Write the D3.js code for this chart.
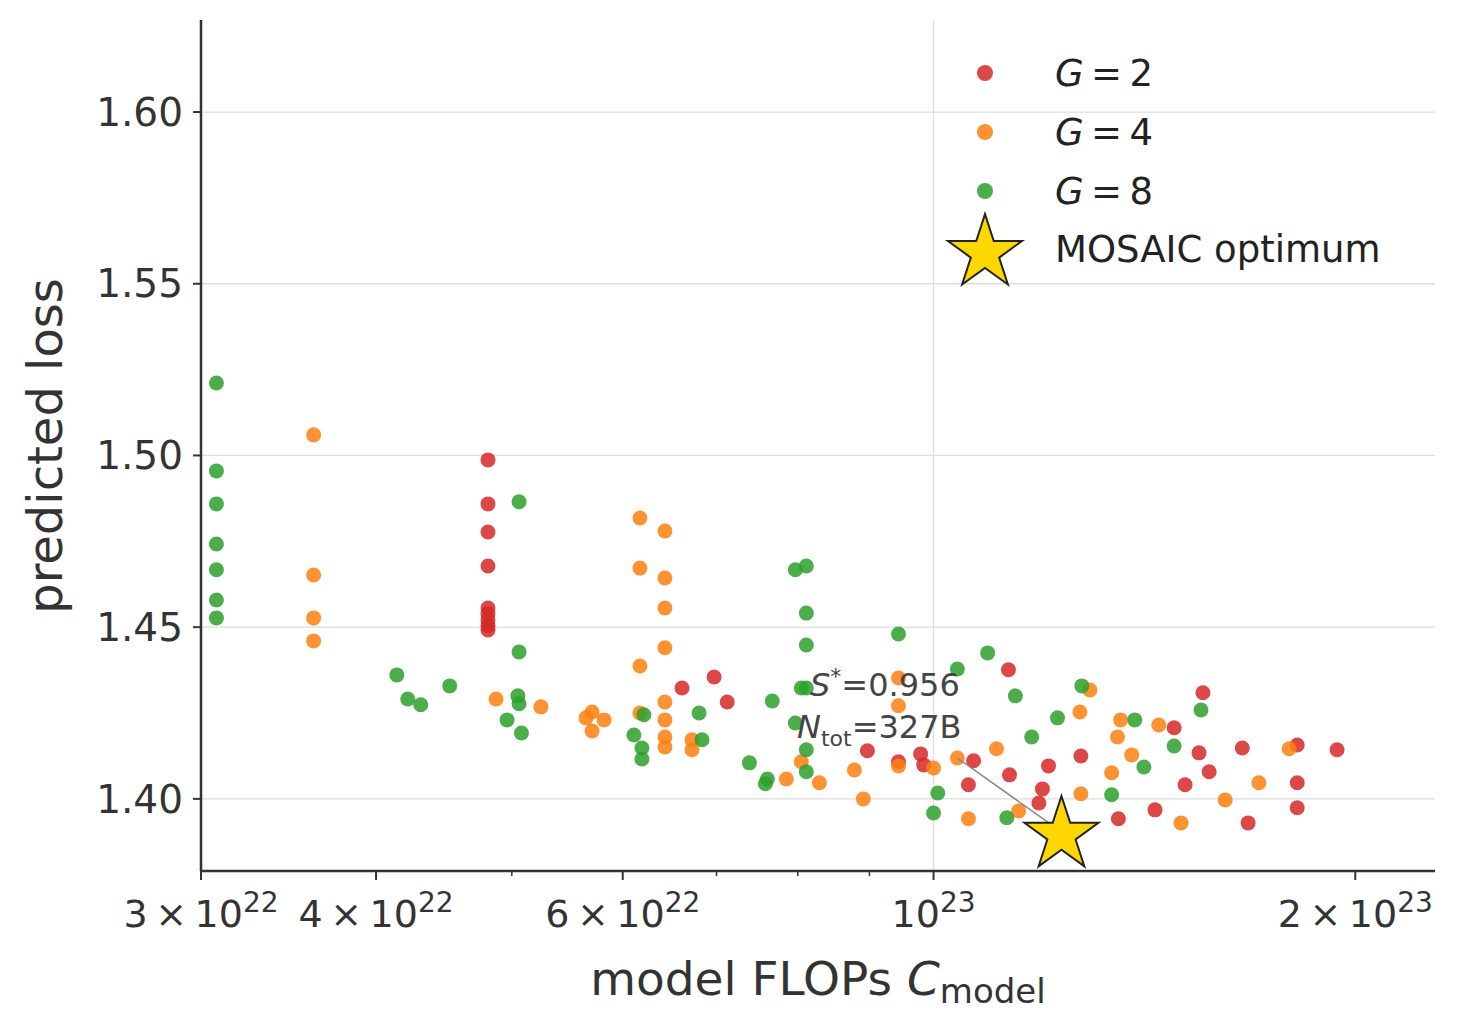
<!DOCTYPE html>
<html><head><meta charset="utf-8">
<script src="https://cdn.jsdelivr.net/npm/d3@7"></script>
<style>body{margin:0;background:#fff}text{font-family:"DejaVu Sans",sans-serif}</style>
</head><body><svg id="c" width="1465" height="1029"></svg>
<script>
const g2x=[0.4808,0.4808,0.4808,0.4808,0.4808,0.4808,0.4808,0.4808,0.4808,0.6614,0.6972,0.7124,0.897,0.979,0.984,0.944,1.059,1.068,1.131,1.133,1.189,1.196,1.208,1.274,1.355,1.439,1.512,1.485,1.547,1.557,1.573,1.661,1.677,1.818,1.818,1.818,1.941];
const g2y=[1.4987,1.4859,1.4777,1.4678,1.4556,1.4539,1.4521,1.4504,1.4492,1.4323,1.4355,1.4282,1.4140,1.4131,1.4099,1.4108,1.4041,1.4111,1.4376,1.4070,1.3988,1.4029,1.4096,1.4125,1.3942,1.3968,1.4041,1.4207,1.4134,1.4309,1.4079,1.4148,1.3930,1.4157,1.4047,1.3974,1.4143];
const g4x=[0.3610,0.3610,0.3610,0.3610,0.4872,0.5245,0.5649,0.5705,0.5705,0.5819,0.6172,0.6172,0.6172,0.6172,0.6431,0.6431,0.6431,0.6431,0.6431,0.6431,0.6431,0.6431,0.6723,0.6723,0.7851,0.8046,0.8289,0.878,0.891,0.944,0.944,0.944,1.0,1.040,1.059,1.109,1.150,1.272,1.293,1.274,1.340,1.353,1.36,1.385,1.448,1.502,1.615,1.707,1.794];
const g4y=[1.5060,1.4652,1.4527,1.4460,1.4291,1.4268,1.4236,1.4253,1.4198,1.4230,1.4818,1.4672,1.4387,1.4250,1.4780,1.4643,1.4556,1.4440,1.4282,1.4230,1.4180,1.4151,1.4172,1.4143,1.4058,1.4108,1.4047,1.4084,1.4000,1.4352,1.4271,1.4096,1.4090,1.4119,1.3942,1.4146,1.3965,1.4253,1.4317,1.4015,1.4076,1.4180,1.4230,1.4128,1.4215,1.3930,1.3997,1.4047,1.4146];
const g8x=[0.3077,0.3077,0.3077,0.3077,0.3077,0.3077,0.3077,0.4139,0.4214,0.4305,0.4515,0.506,0.506,0.505,0.506,0.4961,0.508,0.6111,0.6212,0.6192,0.6192,0.6802,0.6835,0.7389,0.761,0.7585,0.7672,0.7968,0.8113,0.8113,0.8113,0.8113,0.8046,0.7968,0.8113,0.8113,0.944,1.007,1.0,1.040,1.093,1.144,1.128,1.175,1.226,1.276,1.340,1.392,1.413,1.485,1.552];
const g8y=[1.5211,1.4955,1.4859,1.4742,1.4667,1.4579,1.4527,1.4361,1.4291,1.4274,1.4329,1.4865,1.4428,1.4300,1.4277,1.4230,1.4192,1.4186,1.4245,1.4148,1.4116,1.4250,1.4172,1.4105,1.4058,1.4044,1.4285,1.4667,1.4678,1.4541,1.4448,1.4323,1.4323,1.4221,1.4143,1.4079,1.4480,1.4017,1.3959,1.4378,1.4425,1.4300,1.3945,1.4180,1.4236,1.4329,1.4012,1.4230,1.4093,1.4154,1.4259];
const starX=1.234, starY=1.3904, sStar="0.956", nTot="327B";
const yTicks=[1.40,1.45,1.50,1.55,1.60];
const series=[{name:"2",x:g2x,y:g2y,c:"#d62728"},{name:"4",x:g4x,y:g4y,c:"#ff7f0e"},{name:"8",x:g8x,y:g8y,c:"#2ca02c"}];

const svg=d3.select("#c");
const L=201,R=1435,T=20,B=871;
const x=d3.scaleLog().domain([0.3,2.28]).range([L,R]);
const y=d3.scaleLinear().domain([1.379,1.6268]).range([B,T]);
const ink="#333";
svg.selectAll(".hg").data(yTicks).join("line").attr("x1",L).attr("x2",R).attr("y1",d=>y(d)).attr("y2",d=>y(d)).attr("stroke","#ddd").attr("stroke-width",1.3);
svg.append("line").attr("x1",x(1)).attr("x2",x(1)).attr("y1",T).attr("y2",B).attr("stroke","#ddd").attr("stroke-width",1.3);
series.forEach(s=>{
  svg.append("g").selectAll("circle").data(s.x.map((v,i)=>[v,s.y[i]])).join("circle")
   .attr("cx",d=>x(d[0])).attr("cy",d=>y(d[1])).attr("r",7.5).attr("fill",s.c).attr("opacity",0.85);
});
svg.append("line").attr("x1",x(1.040)).attr("y1",y(1.4119)).attr("x2",x(starX)).attr("y2",y(starY)).attr("stroke","#888").attr("stroke-width",1.5);
const t1=svg.append("text").attr("x",810).attr("y",696).attr("font-size",32).attr("fill","#444");
t1.append("tspan").attr("font-style","italic").text("S");
t1.append("tspan").attr("dy",-12).attr("font-size",22).text("*");
t1.append("tspan").attr("dy",12).text("=" + sStar);
const t2=svg.append("text").attr("x",797).attr("y",738).attr("font-size",32).attr("fill","#444");
t2.append("tspan").attr("font-style","italic").text("N");
t2.append("tspan").attr("dy",8).attr("font-size",22).text("tot");
t2.append("tspan").attr("dy",-8).text("=" + nTot);
const star=d3.symbol().type(d3.symbolStar).size(1700);
svg.append("path").attr("d",star()).attr("transform",`translate(${x(starX)},${y(starY)+3})`).attr("fill","#ffd700").attr("stroke","#222").attr("stroke-width",2);
svg.append("line").attr("x1",L).attr("x2",L).attr("y1",T).attr("y2",B).attr("stroke",ink).attr("stroke-width",2.5);
svg.append("line").attr("x1",L).attr("x2",R).attr("y1",B).attr("y2",B).attr("stroke",ink).attr("stroke-width",2.5);
yTicks.forEach(v=>{
  svg.append("line").attr("x1",L-8).attr("x2",L).attr("y1",y(v)).attr("y2",y(v)).attr("stroke",ink).attr("stroke-width",2);
  svg.append("text").attr("x",L-18).attr("y",y(v)).attr("dy","0.35em").attr("text-anchor","end").attr("font-size",39).attr("fill",ink).text(v.toFixed(2));
});
const major=[[0.3,"3","22"],[0.4,"4","22"],[0.6,"6","22"],[1,null,"23"],[2,"2","23"]];
[0.5,0.7,0.8,0.9].forEach(v=>svg.append("line").attr("x1",x(v)).attr("x2",x(v)).attr("y1",B).attr("y2",B+5).attr("stroke",ink).attr("stroke-width",1.5));
major.forEach(([v,m,e])=>{
  svg.append("line").attr("x1",x(v)).attr("x2",x(v)).attr("y1",B).attr("y2",B+9).attr("stroke",ink).attr("stroke-width",2);
  const t=svg.append("text").attr("x",x(v)).attr("y",927).attr("text-anchor","middle").attr("font-size",38).attr("fill",ink);
  t.append("tspan").text(m?m+"\u2009×\u200910":"10");
  t.append("tspan").attr("dy",-15).attr("font-size",28).text(e);
});
const xl=svg.append("text").attr("x",818).attr("y",995).attr("text-anchor","middle").attr("font-size",47).attr("fill",ink);
xl.append("tspan").text("model FLOPs ");
xl.append("tspan").attr("font-style","italic").text("C");
xl.append("tspan").attr("dy",8).attr("font-size",34).text("model");
svg.append("text").attr("transform","translate(62,446) rotate(-90)").attr("text-anchor","middle").attr("font-size",48).attr("fill",ink).text("predicted loss");
series.forEach((s,i)=>{
  const ly=73+i*59;
  svg.append("circle").attr("cx",985).attr("cy",ly).attr("r",8).attr("fill",s.c).attr("opacity",0.85);
  const t=svg.append("text").attr("x",1055).attr("y",ly).attr("dy","0.35em").attr("font-size",37).attr("fill","#222");
  t.append("tspan").attr("font-style","italic").text("G");
  t.append("tspan").text("\u2009=\u20092".replace("2",s.name));
});
svg.append("path").attr("d",star()).attr("transform","translate(985,253)").attr("fill","#ffd700").attr("stroke","#222").attr("stroke-width",2);
svg.append("text").attr("x",1055).attr("y",249).attr("dy","0.35em").attr("font-size",37).attr("fill","#222").text("MOSAIC optimum");
</script></body></html>
